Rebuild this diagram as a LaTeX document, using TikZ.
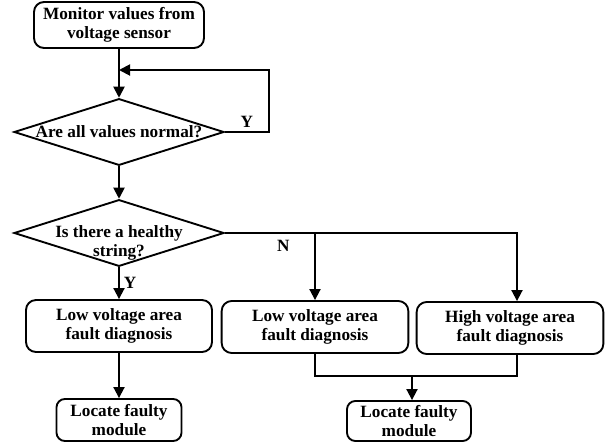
\documentclass[tikz,border=0pt]{standalone}
\usepackage{fontspec}
\setmainfont{Liberation Serif}
\usetikzlibrary{shapes.geometric,arrows.meta}
\begin{document}
\begin{tikzpicture}[
  x=0.03cm, y=-0.03cm,
  every node/.style={font=\bfseries\fontsize{14.7}{16}\selectfont, align=center},
  block/.style={draw, line width=1.6pt, rounded corners=3mm, inner sep=0pt},
  decision/.style={draw, diamond, aspect=3.2, line width=1.6pt, inner sep=0pt,
    minimum width=6.3cm, minimum height=2cm},
  line/.style={line width=1.6pt},
  arrow/.style={line, -{Triangle[length=3.3mm, width=3.3mm]}},
]
  \useasboundingbox (0,0) rectangle (613,445);
  \node[block, minimum width=5.1cm, minimum height=1.38cm] (monitor) at (119,25) {Monitor values from\\voltage sensor};
  \node[decision, label={center:Are all values normal?}] (normal) at (119,132) {};
  \node[decision, label={[yshift=-0.3cm]center:Is there a healthy\\string?}] (healthy) at (119,233) {};
  \node[block, minimum width=5.58cm, minimum height=1.56cm] (lowa) at (119,326) {Low voltage area\\fault diagnosis};
  \node[block, minimum width=5.6cm, minimum height=1.56cm] (lowb) at (315,327) {Low voltage area\\fault diagnosis};
  \node[block, minimum width=5.6cm, minimum height=1.56cm] (high) at (510,328) {High voltage area\\fault diagnosis};
  \node[block, minimum width=3.75cm, minimum height=1.26cm, rounded corners=2.5mm] (locatea) at (119,420) {Locate faulty\\module};
  \node[block, minimum width=3.72cm, minimum height=1.2cm, rounded corners=2.5mm] (locateb) at (409,421) {Locate faulty\\module};
  \coordinate (back) at (119,70);
  \coordinate (merge) at (412,376);

  \draw[arrow] (monitor) -- (normal);
  \draw[arrow] (normal.east) -- node[above]{Y} ++(44,0) |- (back);
  \draw[arrow] (normal) -- (healthy);
  \draw[arrow] (healthy) -- node[right]{Y} (lowa);
  \draw[arrow] (healthy.east) -| node[pos=0.1, below=2pt]{N} ([shift={(7,0)}]high.north);
  \draw[arrow] (lowb |- healthy.east) -- (lowb);
  \draw[arrow] (lowa) -- (locatea);
  \draw[line] (lowb.south) |- (merge) -| ([shift={(7,0)}]high.south);
  \draw[arrow] (merge) -- (merge |- locateb.north);
\end{tikzpicture}
\end{document}
